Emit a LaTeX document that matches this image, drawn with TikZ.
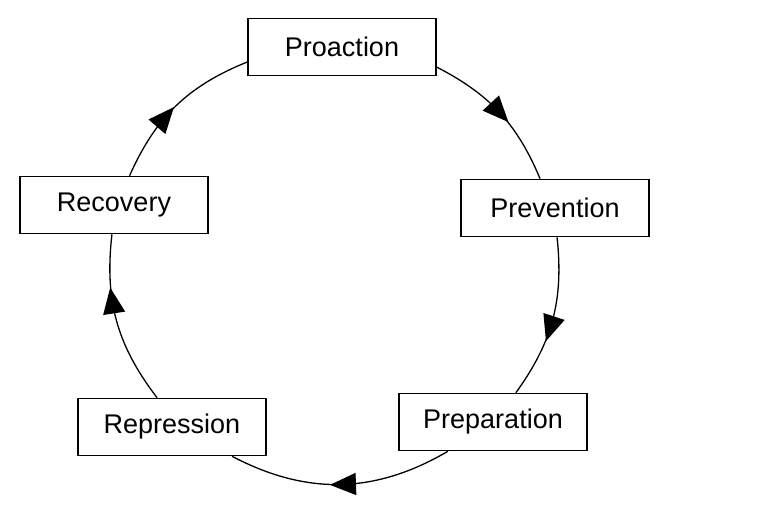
\documentclass[tikz,border=0pt]{standalone}
\usepackage{fontspec}
\setmainfont{Liberation Sans}
\usetikzlibrary{arrows.meta,decorations.markings}

\begin{document}
\begin{tikzpicture}[x=1pt, y=1pt,
		every node/.style={font=\fontsize{27}{31}\selectfont},
		phase/.style={draw, line width=1.6pt, minimum width=188pt, minimum height=57pt, inner sep=0pt},
		flow/.style={line width=1.3pt, postaction={decorate},
			decoration={markings, mark=at position #1 with {\arrow[xshift=13pt]{Triangle[length=26pt,width=22pt]}}}},
		flow/.default=0.5]
		\useasboundingbox (0,0) rectangle (760,520);
		
		\node[phase] (pro) at (342,473) {Proaction};
		\node[phase] (prev) at (555,312) {Prevention};
		\node[phase] (prep) at (493,98) {Preparation};
		\node[phase] (rep) at (172,93) {Repression};
		\node[phase] (rec) at (114,315) {Recovery};
		
		% arcs of the cycle
		\draw[flow] (pro.-12.5) to[bend left=20] (prev.117.3);
		\draw[flow=0.56] (prev.-86) to[bend left=21] (prep.52.8);
		\draw[flow=0.49] (prep.213.7) to[bend left=29] (rep.-26.6);
		\draw[flow=0.62] (rep.117.3) to[bend left=22] (rec.266);
		\draw[flow=0.41] (rec.62) to[bend left=22] (pro.189.6);
		
	\end{tikzpicture}
\end{document}
